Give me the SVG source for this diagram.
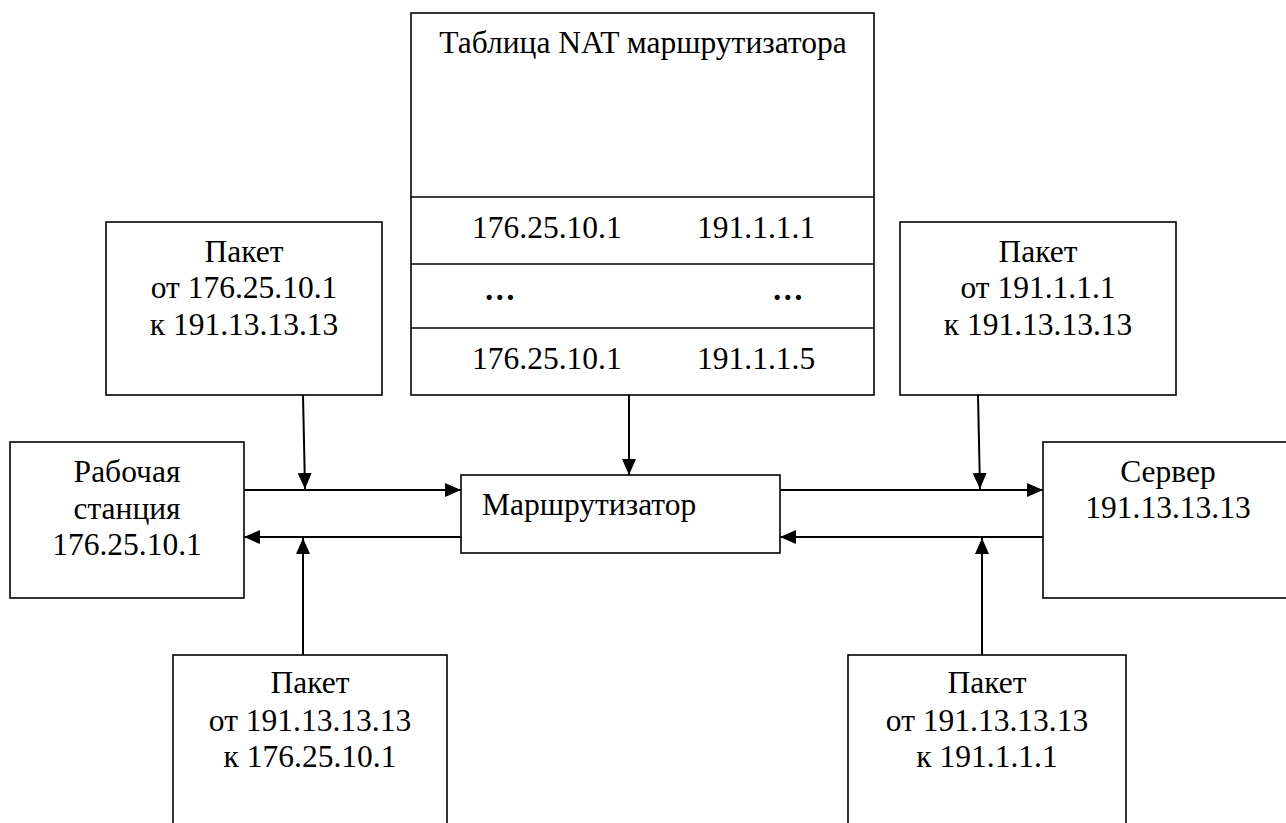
<svg xmlns="http://www.w3.org/2000/svg" width="1286" height="823" viewBox="0 0 1286 823">
  <style>
    .box { fill: #fff; stroke: #000; stroke-width: 1.6; }
    .sep { stroke: #000; stroke-width: 1.6; }
    .t { font-family: "Liberation Serif", "DejaVu Serif", serif; font-size: 31.5px; fill: #000; }
    .c { text-anchor: middle; }
    .dots { font-weight: bold; }
    .link { stroke: #000; stroke-width: 2; fill: none; marker-end: url(#head); }
  </style>
  <defs>
    <marker id="head" markerUnits="userSpaceOnUse" markerWidth="17" markerHeight="16" refX="16" refY="8" orient="auto">
      <path d="M0,1 L16,8 L0,15 z" fill="#000"/>
    </marker>
  </defs>
  <rect width="1286" height="823" fill="#fff"/>

  <!-- NAT table -->
  <g id="nat-table">
    <rect class="box" x="411" y="13" width="463" height="382"/>
    <line class="sep" x1="411" y1="197" x2="874" y2="197"/>
    <line class="sep" x1="411" y1="264" x2="874" y2="264"/>
    <line class="sep" x1="411" y1="328" x2="874" y2="328"/>
    <text class="t c" x="643" y="53">Таблица NAT маршрутизатора</text>
    <text class="t" x="472" y="238">176.25.10.1</text>
    <text class="t" x="697" y="238">191.1.1.1</text>
    <text class="t dots" x="484" y="300">…</text>
    <text class="t dots" x="772" y="300">…</text>
    <text class="t" x="472" y="369">176.25.10.1</text>
    <text class="t" x="697" y="369">191.1.1.5</text>
  </g>

  <!-- Outgoing packet, workstation side -->
  <g id="packet-out-local">
    <rect class="box" x="106" y="222" width="276" height="173"/>
    <text class="t c" x="244" y="262">Пакет</text>
    <text class="t c" x="244" y="298">от 176.25.10.1</text>
    <text class="t c" x="244" y="335">к 191.13.13.13</text>
  </g>

  <!-- Outgoing packet, server side -->
  <g id="packet-out-public">
    <rect class="box" x="900" y="222" width="276" height="173"/>
    <text class="t c" x="1038" y="262">Пакет</text>
    <text class="t c" x="1038" y="298">от 191.1.1.1</text>
    <text class="t c" x="1038" y="335">к 191.13.13.13</text>
  </g>

  <!-- Workstation -->
  <g id="workstation">
    <rect class="box" x="10" y="442" width="234" height="156"/>
    <text class="t c" x="127" y="482">Рабочая</text>
    <text class="t c" x="127" y="519">станция</text>
    <text class="t c" x="127" y="555">176.25.10.1</text>
  </g>

  <!-- Router -->
  <g id="router">
    <rect class="box" x="461" y="475" width="319" height="78"/>
    <text class="t" x="482" y="515">Маршрутизатор</text>
  </g>

  <!-- Server -->
  <g id="server">
    <rect class="box" x="1043" y="442" width="252" height="156"/>
    <text class="t c" x="1168" y="482">Сервер</text>
    <text class="t c" x="1168" y="518">191.13.13.13</text>
  </g>

  <!-- Reply packet, workstation side -->
  <g id="packet-in-local">
    <rect class="box" x="173" y="655" width="274" height="180"/>
    <text class="t c" x="310" y="693">Пакет</text>
    <text class="t c" x="310" y="731">от 191.13.13.13</text>
    <text class="t c" x="310" y="767">к 176.25.10.1</text>
  </g>

  <!-- Reply packet, server side -->
  <g id="packet-in-public">
    <rect class="box" x="848" y="655" width="278" height="180"/>
    <text class="t c" x="987" y="693">Пакет</text>
    <text class="t c" x="987" y="731">от 191.13.13.13</text>
    <text class="t c" x="987" y="767">к 191.1.1.1</text>
  </g>

  <!-- Connectors -->
  <g id="connectors">
    <line class="link" x1="303" y1="395" x2="305" y2="489"/>
    <line class="link" x1="244" y1="490" x2="461" y2="490"/>
    <line class="link" x1="461" y1="537" x2="244" y2="537"/>
    <line class="link" x1="303" y1="655" x2="303" y2="538"/>
    <line class="link" x1="629" y1="395" x2="629" y2="475"/>
    <line class="link" x1="780" y1="490" x2="1043" y2="490"/>
    <line class="link" x1="1043" y1="537" x2="780" y2="537"/>
    <line class="link" x1="978" y1="395" x2="980" y2="489"/>
    <line class="link" x1="982" y1="655" x2="982" y2="538"/>
  </g>
</svg>
